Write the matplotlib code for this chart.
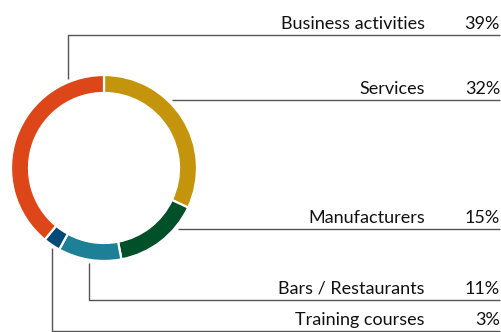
import matplotlib
matplotlib.use("Agg")
import matplotlib.pyplot as plt

# datos
sectores = ["Services", "Manufacturers", "Bars / Restaurants", "Training courses", "Business activities"]
porcentajes = [32, 15, 11, 3, 39]
colores = ["#C4950C", "#00502A", "#1D8096", "#004A77", "#DC4618"]

W, H = 502, 332
fig = plt.figure(figsize=(W / 100, H / 100), dpi=100)
ax = fig.add_axes([0, 0, 1, 1])

# donut (coordenadas en pixeles, y hacia arriba)
cx, cy, r = 104, H - 168, 93
ax.pie(porcentajes, colors=colores, startangle=90, counterclock=False,
       center=(cx, cy), radius=r,
       wedgeprops=dict(width=18, edgecolor="white", linewidth=1.6))

ax.set_xlim(0, W)
ax.set_ylim(0, H)
ax.set_aspect("equal")
ax.axis("off")

familia = ["Lato", "DejaVu Sans"]

# líneas guía: (puntos de la polilínea en pixeles desde arriba)
guias = {
    "Business activities": [(68, 79), (68, 35), (500, 35)],
    "Services": [(172, 100), (500, 100)],
    "Manufacturers": [(178, 229), (500, 229)],
    "Bars / Restaurants": [(89, 263), (89, 300), (500, 300)],
    "Training courses": [(52, 248), (52, 331), (500, 331)],
}

for nombre, pct in zip(sectores, porcentajes):
    pts = guias[nombre]
    xs = [p[0] for p in pts]
    ys = [H - p[1] for p in pts]
    ax.plot(xs, ys, color="#555555", linewidth=1.0, solid_capstyle="butt")
    yb = ys[-1] + 6
    ax.text(425, yb, nombre, ha="right", va="baseline", fontsize=13,
            family=familia, color="#111111")
    ax.text(500, yb, f"{pct}%", ha="right", va="baseline", fontsize=13,
            family=familia, color="#111111")

fig.savefig("out.png", dpi=100)
